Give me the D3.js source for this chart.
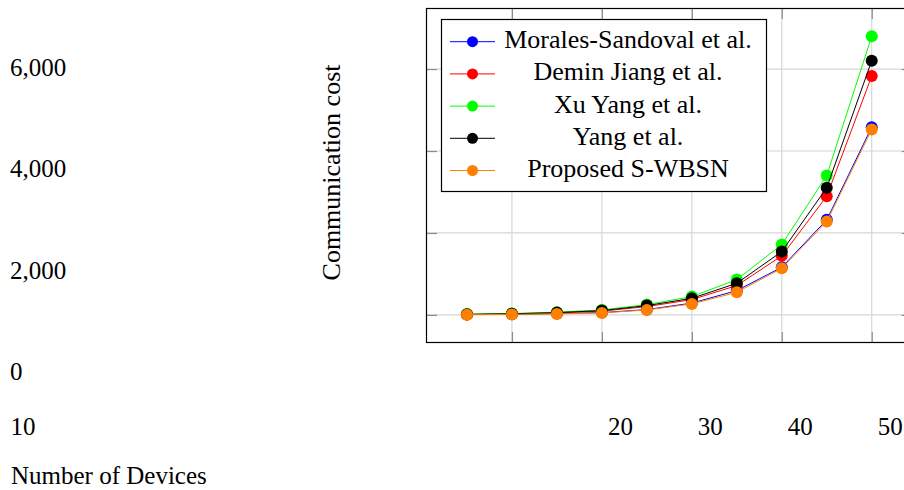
<!DOCTYPE html>
<html>
<head>
<meta charset="utf-8">
<script src="https://cdn.jsdelivr.net/npm/d3@7"></script>
<style>
  html, body { margin: 0; padding: 0; background: #fff; }
  svg { display: block; }
  text { font-family: "Liberation Serif", "Times New Roman", serif; fill: #000; }
</style>
</head>
<body>
<svg id="chart" width="904" height="490"></svg>
<script>
// Number of devices on the x axis
const devices = [5, 10, 15, 20, 25, 30, 35, 40, 45, 50];

// Communication cost per scheme
const morales  = [8, 15, 32, 56, 130, 288, 594, 1163, 2321, 4583];
const demin    = [12, 24, 49, 93, 203, 374, 716, 1441, 2897, 5829];
const xuYang   = [16, 32, 68, 122, 252, 447, 862, 1717, 3403, 6799];
const yang     = [14, 28, 56, 105, 227, 405, 772, 1546, 3103, 6205];
const proposed = [6, 12, 25, 49, 122, 269, 552, 1138, 2279, 4527];

const seriesNames  = ["Morales-Sandoval et al.", "Demin Jiang et al.", "Xu Yang et al.", "Yang et al.", "Proposed S-WBSN"];
const seriesValues = [morales, demin, xuYang, yang, proposed];
const seriesColors = ["#0000ff", "#ff0000", "#00ff00", "#000000", "#ff8000"];

// Tick values and their labels
const xTicks = [10, 20, 30, 40, 50];
const yTicks = [0, 2000, 4000, 6000];
const yTickLabels = ["0", "2,000", "4,000", "6,000"];
const xTitle = "Number of Devices";
const yTitle = "Communication cost";

const svg = d3.select("#chart");

// Plot frame (right edge runs past the page)
const frame = { left: 426.5, top: 8.5, right: 912.2, bottom: 342.5 };

// Axis limits enlarged by 10% of the data span
const xExt = d3.extent(devices);
const xPad = (xExt[1] - xExt[0]) * 0.1;
const allY = seriesValues.flat();
const yExt = d3.extent(allY);
const yPad = (yExt[1] - yExt[0]) * 0.1;

const x = d3.scaleLinear().domain([xExt[0] - xPad, xExt[1] + xPad]).range([frame.left, frame.right]);
const y = d3.scaleLinear().domain([yExt[0] - yPad, yExt[1] + yPad]).range([frame.bottom, frame.top]);

const plot = svg.append("g");

// Grid
plot.append("g").selectAll("line").data(xTicks).join("line")
  .attr("x1", d => x(d)).attr("x2", d => x(d))
  .attr("y1", frame.top).attr("y2", frame.bottom)
  .attr("stroke", "#d6d6d6").attr("stroke-width", 1.2);
plot.append("g").selectAll("line").data(yTicks).join("line")
  .attr("x1", frame.left).attr("x2", frame.right)
  .attr("y1", d => y(d)).attr("y2", d => y(d))
  .attr("stroke", "#d6d6d6").attr("stroke-width", 1.2);

// Inward tick marks on all four sides
const tickLen = 10.5;
const tickStyle = sel => sel.call(g => g.select(".domain").remove())
  .call(g => g.selectAll(".tick line").attr("stroke", "#8c8c8c").attr("stroke-width", 1.2))
  .call(g => g.selectAll(".tick text").remove());
plot.append("g").attr("transform", `translate(0,${frame.bottom})`)
  .call(d3.axisBottom(x).tickValues(xTicks).tickSize(-tickLen)).call(tickStyle);
plot.append("g").attr("transform", `translate(0,${frame.top})`)
  .call(d3.axisTop(x).tickValues(xTicks).tickSize(-tickLen)).call(tickStyle);
plot.append("g").attr("transform", `translate(${frame.left},0)`)
  .call(d3.axisLeft(y).tickValues(yTicks).tickSize(-tickLen)).call(tickStyle);
plot.append("g").attr("transform", `translate(${frame.right},0)`)
  .call(d3.axisRight(y).tickValues(yTicks).tickSize(-tickLen)).call(tickStyle);

// Frame
plot.append("rect")
  .attr("x", frame.left).attr("y", frame.top)
  .attr("width", frame.right - frame.left).attr("height", frame.bottom - frame.top)
  .attr("fill", "none").attr("stroke", "#000").attr("stroke-width", 1.2);

// Series lines and markers
const line = d3.line().x((d, i) => x(devices[i])).y(d => y(d));
seriesValues.forEach((vals, s) => {
  const g = plot.append("g");
  g.append("path").attr("d", line(vals))
    .attr("fill", "none").attr("stroke", seriesColors[s]).attr("stroke-width", 1);
  g.selectAll("circle").data(vals).join("circle")
    .attr("cx", (d, i) => x(devices[i])).attr("cy", d => y(d)).attr("r", 6)
    .attr("fill", seriesColors[s]);
});

// Legend
const legend = svg.append("g");
legend.append("rect")
  .attr("x", 441.5).attr("y", 19.5).attr("width", 325).attr("height", 172)
  .attr("fill", "#fff").attr("stroke", "#000").attr("stroke-width", 1.2);
seriesNames.forEach((name, s) => {
  const cy = 41.7 + s * 32.2;
  legend.append("line").attr("x1", 450).attr("x2", 495).attr("y1", cy).attr("y2", cy)
    .attr("stroke", seriesColors[s]).attr("stroke-width", 1);
  legend.append("circle").attr("cx", 472.5).attr("cy", cy).attr("r", 5.5).attr("fill", seriesColors[s]);
  legend.append("text").attr("x", 628).attr("y", cy + 6.5)
    .attr("text-anchor", "middle").attr("font-size", 26).text(name);
});

// Tick labels and titles
const labels = svg.append("g").attr("font-size", 25);
const yLabelBase = [380, 278.5, 177, 75.5];
yTickLabels.forEach((t, i) => {
  labels.append("text").attr("x", 10).attr("y", yLabelBase[i]).text(t);
});
xTicks.forEach((t, i) => {
  const cx = i === 0 ? 23 : x(t) + 18.5;
  labels.append("text").attr("x", cx).attr("y", 435).attr("text-anchor", "middle").text(t);
});
labels.append("text").attr("x", 11).attr("y", 484).text(xTitle);

svg.append("text")
  .attr("transform", "translate(340,172.5) rotate(-90)")
  .attr("text-anchor", "middle").attr("font-size", 26).text(yTitle);
</script>
</body>
</html>
